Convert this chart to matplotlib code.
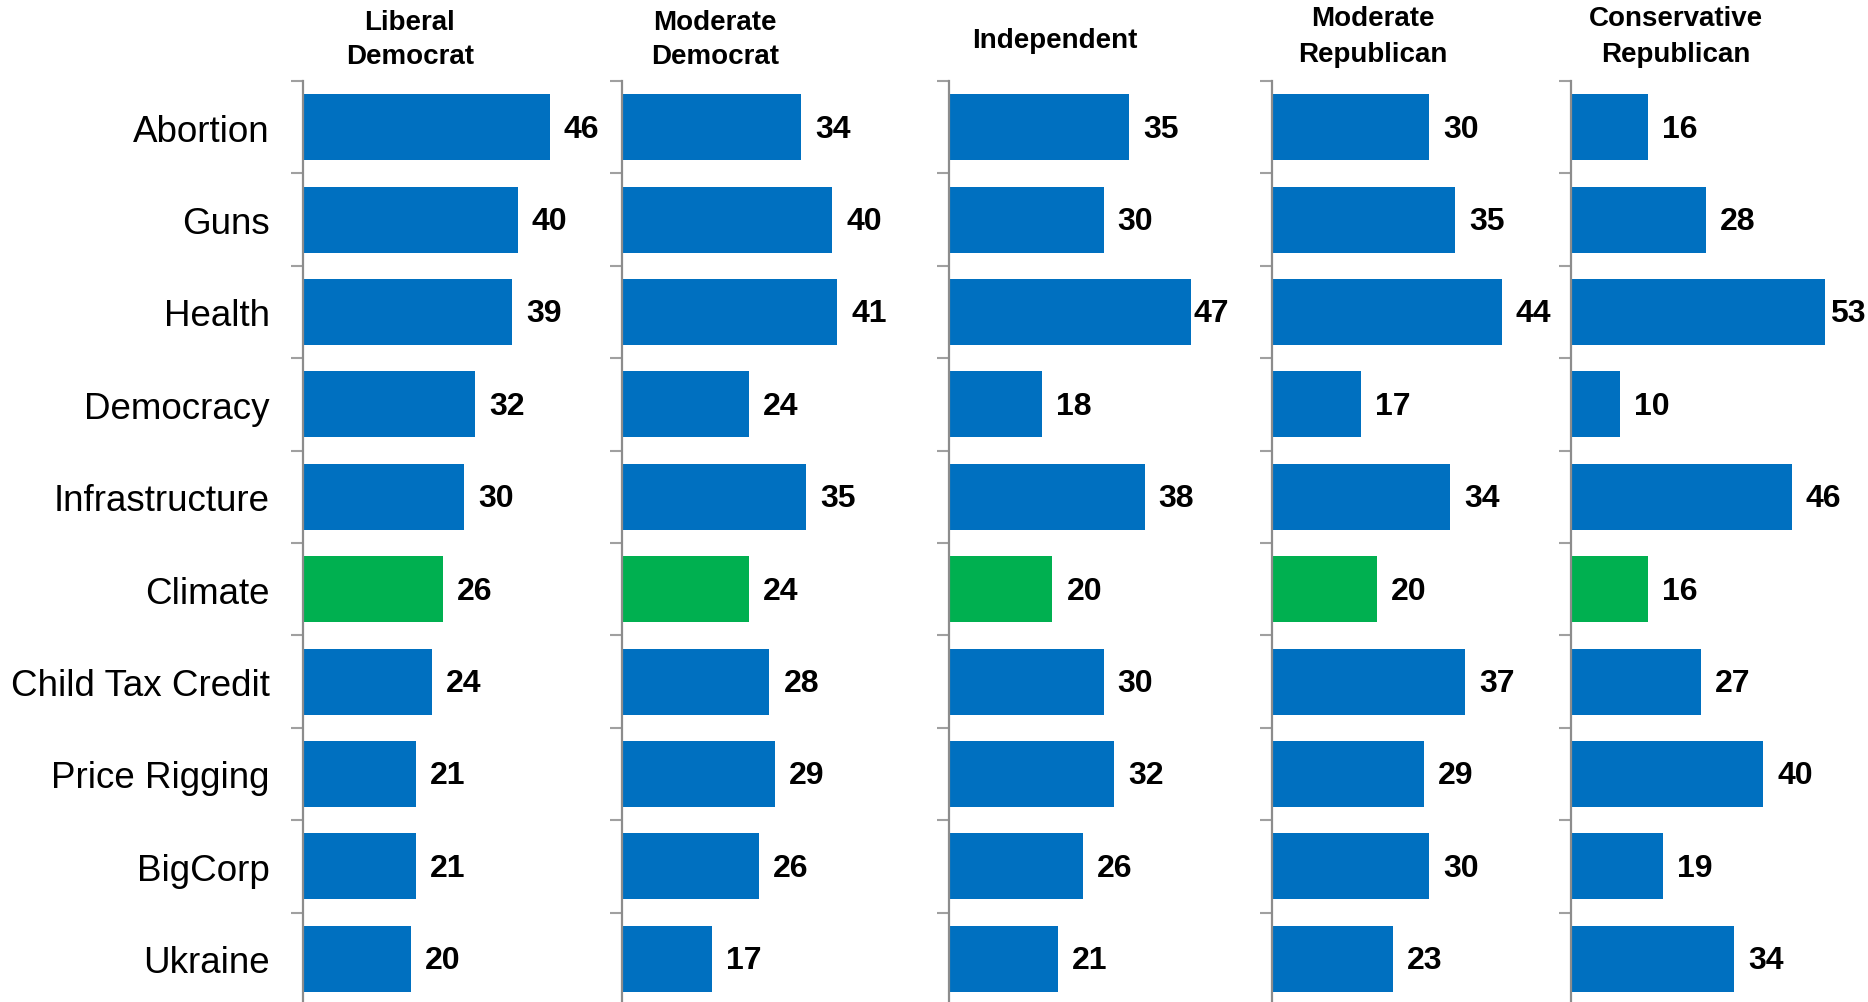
import numpy as np
import matplotlib.pyplot as plt

plt.rcParams['font.family'] = ['Liberation Sans', 'DejaVu Sans']

# data
issues = ['Abortion', 'Guns', 'Health', 'Democracy', 'Infrastructure', 'Climate',
          'Child Tax Credit', 'Price Rigging', 'BigCorp', 'Ukraine']
groups = ['Liberal\nDemocrat', 'Moderate\nDemocrat', 'Independent',
          'Moderate\nRepublican', 'Conservative\nRepublican']

liberal_dem = [46, 40, 39, 32, 30, 26, 24, 21, 21, 20]
moderate_dem = [34, 40, 41, 24, 35, 24, 28, 29, 26, 17]
independent = [35, 30, 47, 18, 38, 20, 30, 32, 26, 21]
moderate_rep = [30, 35, 44, 17, 34, 20, 37, 29, 30, 23]
conservative_rep = [16, 28, 53, 10, 46, 16, 27, 40, 19, 34]

highlight = 'Climate'

# layout (pixels of the 1868x1003 figure)
W, H = 1868, 1003
axis_x = [303, 622, 949, 1272, 1571]
px_per_unit = [5.34, 5.23, 5.12, 5.2, 4.78]
plot_right = [610, 900, 1230, 1560, 1866]   # where value labels must fit
header_x = [410, 715, 1055, 1373, 1676]
header_y = [40, 40, 41, 37, 37]
panel_w = 290
top_px, bottom_px = 82, 1006
label_w = 36

blue = '#0070C0'
green = '#00B050'
spine_grey = '#8C8C8C'

series = [liberal_dem, moderate_dem, independent, moderate_rep, conservative_rep]

fig = plt.figure(figsize=(W / 100, H / 100), dpi=100)

y = np.arange(len(issues))
for i, vals in enumerate(series):
    ax = fig.add_axes([axis_x[i] / W, 1 - bottom_px / H,
                       panel_w / W, (bottom_px - top_px) / H])
    colors = [green if c == highlight else blue for c in issues]
    ax.barh(y, vals, height=0.715, color=colors, left=0.2)
    ax.set_ylim(len(issues) - 0.5, -0.5)
    ax.set_xlim(0, panel_w / px_per_unit[i])
    for yy, v in zip(y, vals):
        bar_end = axis_x[i] + v * px_per_unit[i]
        gap_px = max(3, min(15, plot_right[i] - bar_end - label_w))
        ax.annotate(str(v), (v, yy), xytext=(gap_px * 0.72, -1), textcoords='offset points',
                    ha='left', va='center', fontsize=23, fontweight='bold')

    for s in ['top', 'right', 'bottom']:
        ax.spines[s].set_visible(False)
    ax.spines['left'].set_color(spine_grey)
    ax.spines['left'].set_linewidth(1.6)
    ax.set_xticks([])
    ax.set_yticks(np.arange(len(issues) + 1) - 0.5, minor=True)
    ax.tick_params(axis='y', which='minor', length=8.6, width=1.5,
                   color='#A0A0A0', direction='out')
    ax.tick_params(axis='y', which='major', length=0, pad=24)
    if i == 0:
        ax.set_yticks(y)
        ax.set_yticklabels(issues, fontsize=26.5)
    else:
        ax.set_yticks([])

    fig.text(header_x[i] / W, 1 - header_y[i] / H, groups[i], ha='center', va='center',
             fontsize=20, fontweight='bold', linespacing=1.45)

fig.savefig('out.png', dpi=100)
